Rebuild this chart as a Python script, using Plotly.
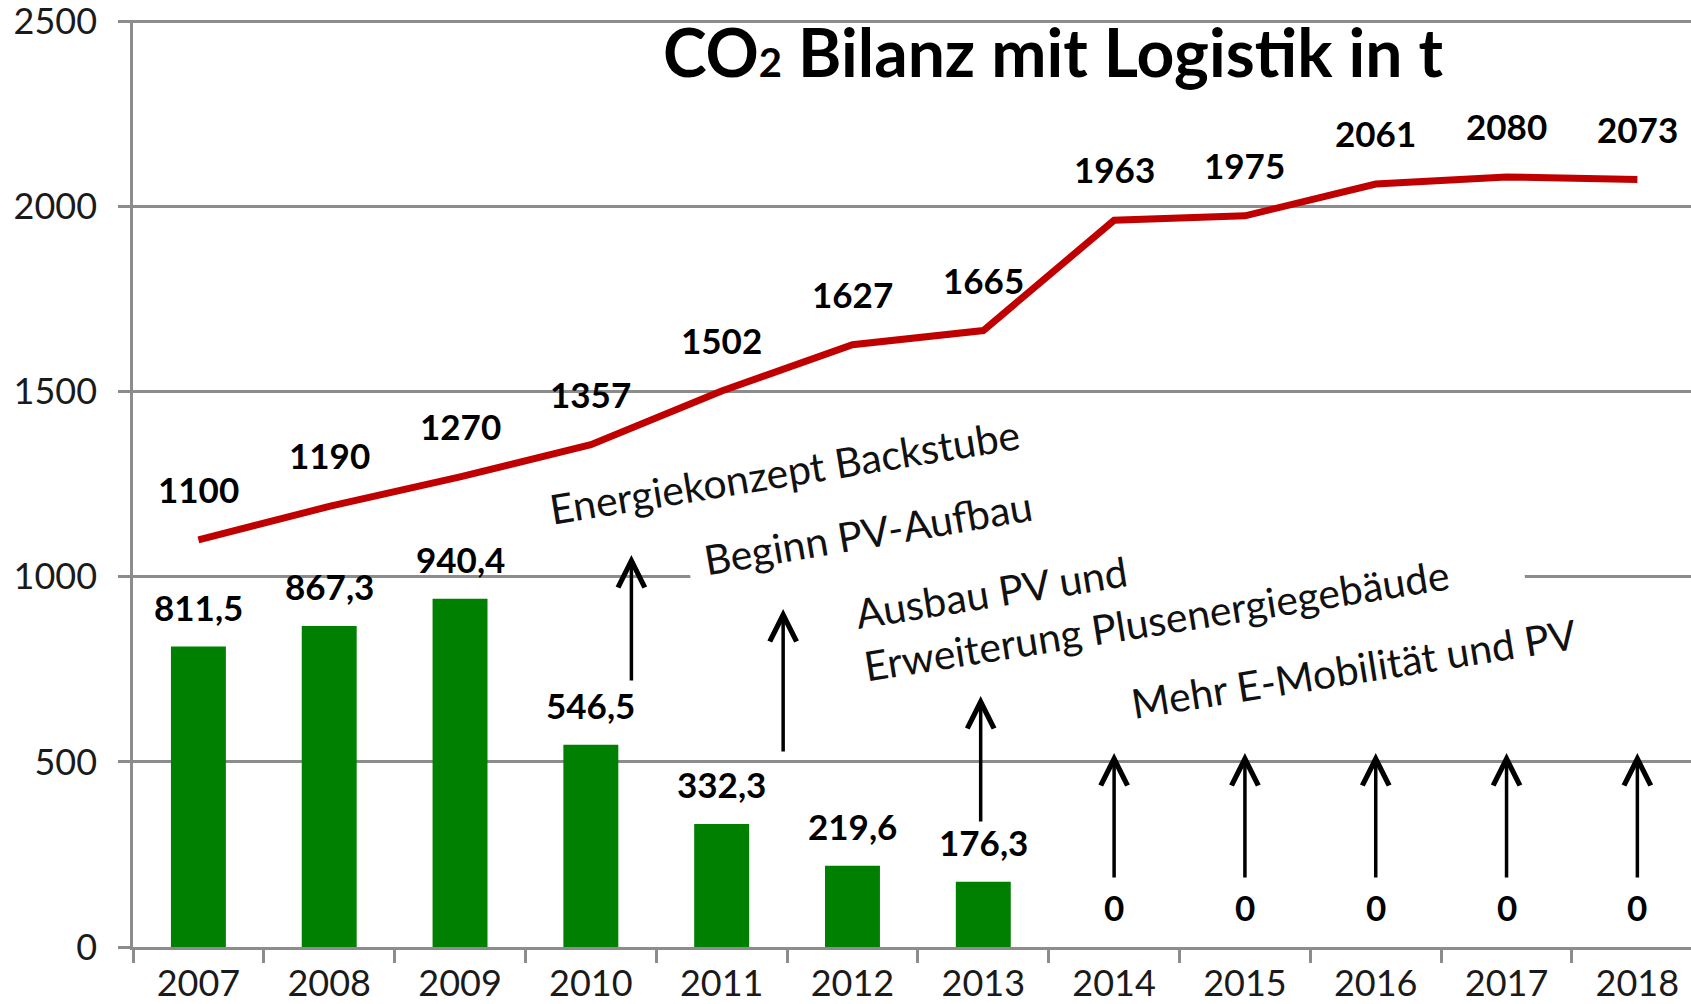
import plotly.graph_objects as go

years = ["2007", "2008", "2009", "2010", "2011", "2012", "2013", "2014", "2015", "2016", "2017", "2018"]
co2_gesamt = [1100, 1190, 1270, 1357, 1502, 1627, 1665, 1963, 1975, 2061, 2080, 2073]
co2_netto = [811.5, 867.3, 940.4, 546.5, 332.3, 219.6, 176.3, 0, 0, 0, 0, 0]
y_ticks = [0, 500, 1000, 1500, 2000, 2500]

massnahmen = [
    "Energiekonzept Backstube",
    "Beginn PV-Aufbau",
    "Ausbau PV und<br>Erweiterung Plusenergiegebäude",
    "Mehr E-Mobilität und PV",
]

GRID = "#8c8c8c"
FONT = "Lato"


def de_num(v):
    # German decimal comma
    if v == 0:
        return "0"
    return f"{v:.1f}".replace(".", ",")


fig = go.Figure()

fig.add_trace(go.Bar(
    x=years, y=co2_netto, width=0.42,
    marker=dict(color="#008000", line=dict(width=0)),
    hoverinfo="skip",
))
fig.add_trace(go.Scatter(
    x=years, y=co2_gesamt, mode="lines",
    line=dict(color="#c00000", width=7),
    hoverinfo="skip",
))

annotations = []

# milestone texts, the ones with white boxes first (they hide the 1000 grid line)
text_pos = {
    2: dict(x=7.28, y=954, textangle=-9.0, bgcolor="white", width=650, align="left",
            xshift=30, yshift=5, borderpad=16),
    1: dict(x=5.12, y=1120, textangle=-9.6, bgcolor="white", borderpad=16),
    0: dict(x=4.48, y=1285, textangle=-9.2),
    3: dict(x=8.83, y=751, textangle=-9.0),
}
for k, opts in text_pos.items():
    annotations.append(dict(text=massnahmen[k], showarrow=False,
                            font=dict(family=FONT, size=41, color="#111111"), **opts))

# arrows: (x index, tail, head)
arrows = [(3.31, 716, 1059), (4.47, 524, 913), (5.98, 335, 678)] + \
         [(i, 184, 524) for i in range(7, 12)]
for xi, tail, head in arrows:
    annotations.append(dict(x=xi, y=head, ax=xi, ay=tail, axref="x", ayref="y",
                            text="", showarrow=True, arrowhead=5, arrowsize=1.5,
                            arrowwidth=3.5, arrowcolor="black", standoff=0))

# value labels
for i, v in enumerate(co2_netto):
    annotations.append(dict(x=i, y=v, text="<b>" + de_num(v) + "</b>", showarrow=False,
                            yshift=40, font=dict(family=FONT, size=35, color="black")))
for i, v in enumerate(co2_gesamt):
    annotations.append(dict(x=i, y=v, text="<b>" + str(v) + "</b>", showarrow=False,
                            yshift=51, font=dict(family=FONT, size=35, color="black")))

fig.update_layout(
    width=1691, height=1004,
    margin=dict(l=133, r=0, t=20, b=57),
    plot_bgcolor="white", paper_bgcolor="white",
    showlegend=False,
    title=dict(text='<b>CO<span style="font-size:40px">2</span> Bilanz mit Logistik in t</b>',
               x=0.6227, y=0.946, xanchor="center", yanchor="middle",
               font=dict(family=FONT, size=66, color="black")),
    font=dict(family=FONT, color="#1a1a1a"),
    annotations=annotations,
)

fig.update_xaxes(
    type="category", range=[-0.5, 11.41], automargin=False,
    showline=True, linecolor=GRID, linewidth=2.5,
    ticks="outside", tickson="boundaries", ticklen=13, tickwidth=2.5, tickcolor=GRID,
    showgrid=False, ticklabelstandoff=3,
    tickfont=dict(family=FONT, size=36, color="#1a1a1a"),
)
fig.update_yaxes(
    range=[0, 2504], tickvals=y_ticks, automargin=False,
    showline=True, linecolor=GRID, linewidth=2.5,
    ticks="outside", ticklen=12, tickwidth=2.5, tickcolor=GRID,
    showgrid=True, gridcolor=GRID, gridwidth=2.5, zeroline=False,
    ticklabelstandoff=14, ticklabeloverflow="allow",
    tickfont=dict(family=FONT, size=36, color="#1a1a1a"),
)

fig.write_html("out.html", config={"displayModeBar": False},
               post_script="document.body.style.margin='0';")
